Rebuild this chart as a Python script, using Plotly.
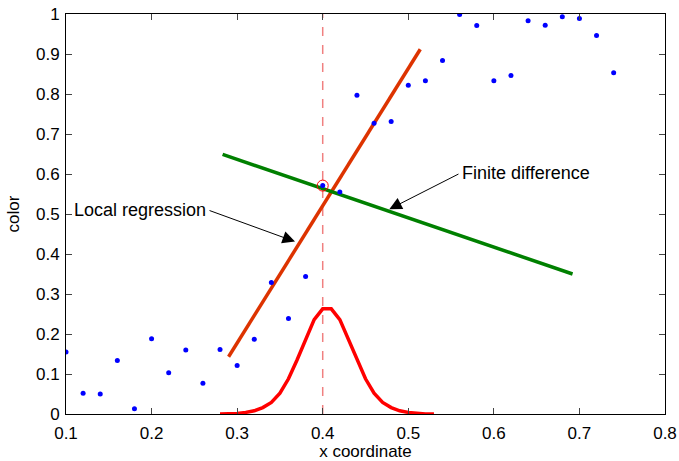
import plotly.graph_objects as go

# Data
sample_x = [0.10, 0.12, 0.14, 0.16, 0.18, 0.20, 0.22, 0.24, 0.26, 0.28, 0.30,
            0.32, 0.34, 0.36, 0.38, 0.40, 0.42, 0.44, 0.46, 0.48, 0.50, 0.52,
            0.54, 0.56, 0.58, 0.60, 0.62, 0.64, 0.66, 0.68, 0.70, 0.72, 0.74]
sample_y = [0.155, 0.052, 0.050, 0.134, 0.013, 0.188, 0.103, 0.160, 0.077, 0.161, 0.121,
            0.187, 0.329, 0.239, 0.344, 0.571, 0.555, 0.797, 0.727, 0.731, 0.822, 0.833,
            0.884, 0.999, 0.971, 0.833, 0.846, 0.983, 0.972, 0.993, 0.989, 0.946, 0.853]

query_x = [0.40]
query_y = [0.571]

reg_x = [0.290, 0.514]
reg_y = [0.143, 0.912]

fd_x = [0.283, 0.692]
fd_y = [0.649, 0.350]

kernel_x = [0.28, 0.29, 0.30, 0.31, 0.32, 0.33, 0.34, 0.35, 0.36, 0.37, 0.38, 0.39, 0.40,
            0.41, 0.42, 0.43, 0.44, 0.45, 0.46, 0.47, 0.48, 0.49, 0.50, 0.51, 0.52, 0.53]
kernel_y = [0.000, 0.000, 0.001, 0.004, 0.008, 0.016, 0.029, 0.052, 0.088, 0.135, 0.186, 0.236, 0.263,
            0.263, 0.236, 0.186, 0.135, 0.088, 0.052, 0.029, 0.016, 0.008, 0.004, 0.001, 0.000, 0.000]

vline_x = [0.40, 0.40]
vline_y = [0.0, 1.0]

x_ticks = [0.1, 0.2, 0.3, 0.4, 0.5, 0.6, 0.7, 0.8]
y_ticks = [0, 0.1, 0.2, 0.3, 0.4, 0.5, 0.6, 0.7, 0.8, 0.9, 1]
x_ticklabels = ["0.1", "0.2", "0.3", "0.4", "0.5", "0.6", "0.7", "0.8"]
y_ticklabels = ["0", "0.1", "0.2", "0.3", "0.4", "0.5", "0.6", "0.7", "0.8", "0.9", "1"]

FONT = "Liberation Sans, Arial, sans-serif"

fig = go.Figure()
fig.add_trace(go.Scatter(x=vline_x, y=vline_y, mode="lines",
                         line=dict(color="#f08080", width=1.5, dash="dash")))
fig.add_trace(go.Scatter(x=kernel_x, y=kernel_y, mode="lines",
                         line=dict(color="#ff0000", width=3.5)))
fig.add_trace(go.Scatter(x=reg_x, y=reg_y, mode="lines",
                         line=dict(color="#dd3300", width=3.5)))
fig.add_trace(go.Scatter(x=fd_x, y=fd_y, mode="lines",
                         line=dict(color="#008000", width=3.5)))
fig.add_trace(go.Scatter(x=sample_x, y=sample_y, mode="markers",
                         marker=dict(color="#0000ff", size=5)))
fig.add_trace(go.Scatter(x=query_x, y=query_y, mode="markers",
                         marker=dict(symbol="circle-open", color="#ff0000", size=11,
                                     line=dict(width=1))))

# arrows
fig.add_annotation(x=0.3676, y=0.431, ax=0.266, ay=0.510, xref="x", yref="y",
                   axref="x", ayref="y", text="", showarrow=True,
                   arrowhead=2, arrowsize=2.5, arrowwidth=1, arrowcolor="black")
fig.add_annotation(x=0.4778, y=0.512, ax=0.5604, ay=0.6018, xref="x", yref="y",
                   axref="x", ayref="y", text="", showarrow=True,
                   arrowhead=2, arrowsize=2.5, arrowwidth=1, arrowcolor="black")
fig.add_annotation(x=0.266, y=0.510, xref="x", yref="y", text="Local regression",
                   showarrow=False, xanchor="right", yanchor="middle",
                   font=dict(family=FONT, size=18, color="black"))
fig.add_annotation(x=0.5604, y=0.6018, xref="x", yref="y", text="Finite difference",
                   showarrow=False, xanchor="left", yanchor="middle",
                   font=dict(family=FONT, size=18, color="black"))

fig.update_layout(
    width=679, height=461,
    margin=dict(l=66, r=14, t=14, b=47),
    paper_bgcolor="white", plot_bgcolor="white",
    showlegend=False,
    font=dict(family=FONT, size=17, color="black"),
)
fig.update_xaxes(range=[0.1, 0.8], tickvals=x_ticks, ticktext=x_ticklabels,
                 showgrid=False, zeroline=False, showline=True, linecolor="black",
                 linewidth=1, mirror="ticks", ticks="inside", ticklen=6,
                 tickcolor="#444", automargin=False, ticklabelstandoff=4,
                 title=dict(text="x coordinate", standoff=0, font=dict(size=17)),
                 tickfont=dict(size=17))
fig.update_yaxes(range=[0, 1], tickvals=y_ticks, ticktext=y_ticklabels,
                 showgrid=False, zeroline=False, showline=True, linecolor="black",
                 linewidth=1, mirror="ticks", ticks="inside", ticklen=6,
                 tickcolor="#444", automargin=False, ticklabelstandoff=2,
                 title=dict(text="color", standoff=12, font=dict(size=17)),
                 tickfont=dict(size=17))

fig.write_html("out.html", config={"displayModeBar": False},
               post_script="document.body.style.margin='0';document.body.style.overflow='hidden';")
